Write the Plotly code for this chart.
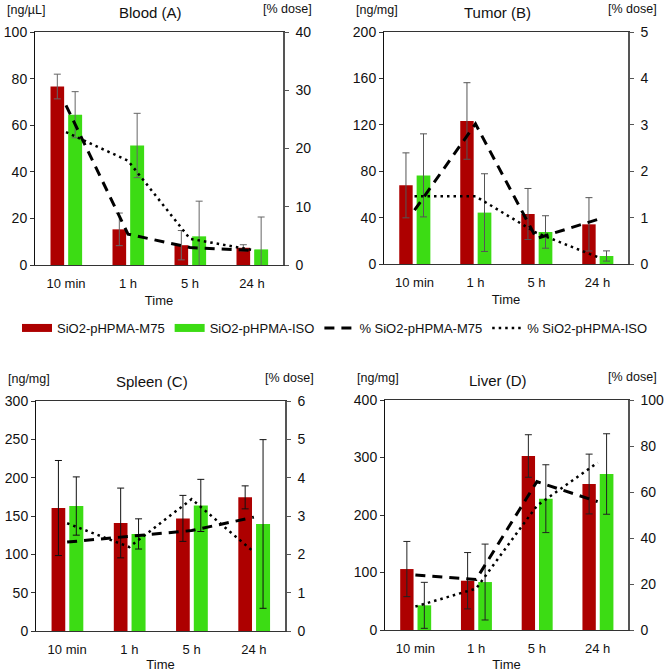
import plotly.graph_objects as go

categories = ["10 min", "1 h", "5 h", "24 h"]

blood_m75 = [76.6, 15.3, 8.5, 7.4]
blood_m75_err = [5.3, 7.0, 6.3, 1.3]
blood_iso = [64.5, 51.3, 12.3, 6.7]
blood_iso_err = [9.9, 13.8, 15.1, 13.9]
blood_pct_m75 = [27.4, 5.3, 3.0, 2.5]
blood_pct_iso = [22.8, 17.9, 4.5, 2.6]

tumor_m75 = [67.8, 123.3, 43.1, 34.2]
tumor_m75_err = [28.0, 33.0, 22.0, 23.0]
tumor_iso = [76.4, 44.3, 27.6, 6.9]
tumor_iso_err = [35.8, 33.5, 14.0, 4.4]
tumor_pct_m75 = [1.16, 3.02, 0.55, 0.96]
tumor_pct_iso = [1.46, 1.46, 0.67, 0.15]

spleen_m75 = [160.4, 140.9, 146.9, 174.3]
spleen_m75_err = [62.0, 45.5, 30.0, 15.0]
spleen_iso = [163.0, 126.6, 163.8, 139.6]
spleen_iso_err = [38.0, 19.7, 34.0, 110.0]
spleen_pct_m75 = [2.32, 2.47, 2.62, 2.97]
spleen_pct_iso = [2.81, 2.19, 3.44, 2.06]

liver_m75 = [106.0, 85.7, 302.6, 253.9]
liver_m75_err = [48.0, 49.0, 37.0, 52.0]
liver_iso = [42.9, 83.4, 228.4, 271.3]
liver_iso_err = [40.0, 66.0, 59.0, 70.0]
liver_pct_m75 = [23.9, 22.0, 64.5, 55.8]
liver_pct_iso = [10.2, 18.0, 54.0, 72.8]

panel_titles = ["Blood (A)", "Tumor (B)", "Spleen (C)", "Liver (D)"]
left_units = ["[ng/µL]", "[ng/mg]", "[ng/mg]", "[ng/mg]"]
right_unit = "[% dose]"
left_ranges = [(100, 20), (200, 40), (300, 50), (400, 100)]
right_ranges = [(40, 10), (5, 1), (6, 1), (100, 20)]

series_names = ["SiO2-pHPMA-M75", "SiO2-pHPMA-ISO", "% SiO2-pHPMA-M75", "% SiO2-pHPMA-ISO"]

RED = "#AD0000"
GREEN = "#3CDC14"
FONT = "Liberation Sans, Arial, sans-serif"
W, H = 670, 672

panels = [
    (blood_m75, blood_m75_err, blood_iso, blood_iso_err, blood_pct_m75, blood_pct_iso),
    (tumor_m75, tumor_m75_err, tumor_iso, tumor_iso_err, tumor_pct_m75, tumor_pct_iso),
    (spleen_m75, spleen_m75_err, spleen_iso, spleen_iso_err, spleen_pct_m75, spleen_pct_iso),
    (liver_m75, liver_m75_err, liver_iso, liver_iso_err, liver_pct_m75, liver_pct_iso),
]

# plot areas in pixels: (left, right, top, bottom)
boxes = [(35, 283, 32, 265), (384, 628, 32, 264), (36, 285, 401, 631), (385, 628, 400, 630)]
err_colors = ["#666666", "#555555", "#111111", "#222222"]
DASH_M75 = dict(color="black", width=3, dash="10px,7px")
DOT_ISO = dict(color="black", width=2.5, dash="2.5px,4px")

fig = go.Figure()
layout = {}
annotations = []

# legend entries (wide swatches like the original legend)
fig.add_trace(go.Scatter(x=[None], y=[None], mode="lines", name=series_names[0],
                         line=dict(color=RED, width=8), legendgroup="a"))
fig.add_trace(go.Scatter(x=[None], y=[None], mode="lines", name=series_names[1],
                         line=dict(color=GREEN, width=8), legendgroup="b"))

for i, (m75, m75e, iso, isoe, pm75, piso) in enumerate(panels):
    n = i + 1
    xa = "x" if n == 1 else f"x{n}"
    ya = "y" if n == 1 else f"y{n}"
    ya2 = f"y{n + 4}"
    first = (i == 0)
    fig.add_trace(go.Bar(x=categories, y=m75, name=series_names[0], marker_color=RED,
                         marker_line_width=0, xaxis=xa, yaxis=ya, showlegend=False,
                         legendgroup="a", offset=-0.25, width=0.22,
                         error_y=dict(type="data", array=m75e, color=err_colors[i], thickness=1, width=3.5)))
    fig.add_trace(go.Bar(x=categories, y=iso, name=series_names[1], marker_color=GREEN,
                         marker_line_width=0, xaxis=xa, yaxis=ya, showlegend=False,
                         legendgroup="b", offset=0.035, width=0.225,
                         error_y=dict(type="data", array=isoe, color=err_colors[i], thickness=1, width=3.5)))
    fig.add_trace(go.Scatter(x=categories, y=pm75, name=series_names[2], mode="lines",
                             line=DASH_M75, xaxis=xa, yaxis=ya2, showlegend=first, legendgroup="c"))
    fig.add_trace(go.Scatter(x=categories, y=piso, name=series_names[3], mode="lines",
                             line=DOT_ISO, xaxis=xa, yaxis=ya2, showlegend=first, legendgroup="d"))

    l, r, t, b = boxes[i]
    xdom = [l / W, r / W]
    ydom = [1 - b / H, 1 - t / H]
    lmax, lstep = left_ranges[i]
    rmax, rstep = right_ranges[i]
    xkey = "xaxis" if n == 1 else f"xaxis{n}"
    ykey = "yaxis" if n == 1 else f"yaxis{n}"
    y2key = f"yaxis{n + 4}"
    layout[xkey] = dict(domain=xdom, anchor=ya, type="category", range=[-0.5, 3.5],
                        showline=True, linecolor="#333333", linewidth=1, mirror=True,
                        ticks="outside", ticklen=6, tickcolor="rgba(0,0,0,0)",
                        showgrid=False, automargin=False,
                        tickfont=dict(size=13, family=FONT, color="#111"),
                        title=dict(text="Time", font=dict(size=13, family=FONT, color="#111"), standoff=6))
    layout[ykey] = dict(domain=ydom, anchor=xa, range=[0, lmax], dtick=lstep, tick0=0,
                        showline=True, linecolor="#111111", linewidth=1, mirror=False,
                        ticks="outside", ticklen=4, tickcolor="#333", showgrid=False, zeroline=False,
                        automargin=False, tickfont=dict(size=14, family=FONT, color="#111"))
    layout[y2key] = dict(overlaying=ya, anchor=xa, side="right", range=[0, rmax], dtick=rstep, tick0=0,
                         showline=True, linecolor="#555555", linewidth=1.5,
                         ticks="outside", ticklen=4, tickcolor="#555", showgrid=False, zeroline=False,
                         ticklabelstandoff=4,
                         automargin=False, tickfont=dict(size=14, family=FONT, color="#111"))
    # titles and unit labels
    annotations.append(dict(text=panel_titles[i], x=(l + r) / 2 / W - 0.012, y=1 - (t - 20) / H,
                            xref="paper", yref="paper", showarrow=False, xanchor="center", yanchor="middle",
                            font=dict(size=15, family=FONT, color="#111")))
    annotations.append(dict(text=left_units[i], x=(l - 30) / W, y=1 - (t - 22) / H,
                            xref="paper", yref="paper", showarrow=False, xanchor="left", yanchor="middle",
                            font=dict(size=12.5, family=FONT, color="#111")))
    annotations.append(dict(text=right_unit, x=(r - 22) / W, y=1 - (t - 23) / H,
                            xref="paper", yref="paper", showarrow=False, xanchor="left", yanchor="middle",
                            font=dict(size=12.5, family=FONT, color="#111")))

fig.update_layout(
    width=W, height=H,
    margin=dict(l=0, r=0, t=0, b=0),
    paper_bgcolor="white", plot_bgcolor="white",
    barmode="overlay",
    font=dict(family=FONT, size=13, color="#111"),
    showlegend=True,
    legend=dict(orientation="h", x=0.5, xanchor="center", y=1 - 328 / H, yanchor="middle",
                font=dict(size=13, family=FONT, color="#111"), itemwidth=30,
                bgcolor="rgba(0,0,0,0)", tracegroupgap=0),
    annotations=annotations,
    **layout,
)

fig.write_html("out.html", config={"displayModeBar": False},
               post_script="document.body.style.margin='0';document.body.style.overflow='hidden';")
